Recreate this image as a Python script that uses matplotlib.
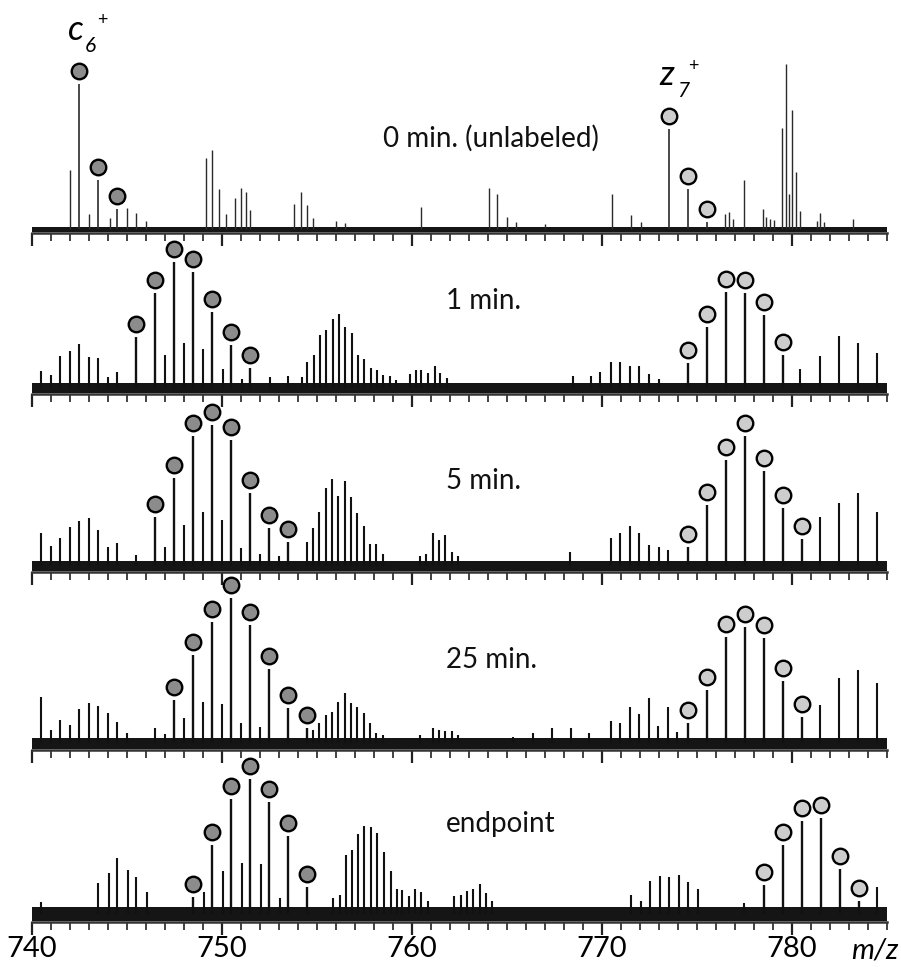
import matplotlib
matplotlib.use("Agg")
import matplotlib.pyplot as plt
import numpy as np

plt.rcParams['font.family'] = ['Lato', 'DejaVu Sans']

# ---------------- data (m/z, intensity in arbitrary units) ----------------
panel_labels = ["0 min. (unlabeled)", "1 min.", "5 min.", "25 min.", "endpoint"]

# panel 1: 0 min (unlabeled)
p1_mz = [742.0, 743.0, 744.1, 745.0, 745.47, 746.0, 749.15, 749.5, 749.85, 750.2,
         750.7, 751.0, 751.25, 751.5, 753.8, 754.15, 754.5, 754.8, 756.0, 756.5,
         760.5, 764.05, 764.5, 765.0, 765.5, 767.0, 770.55, 771.55, 772.05, 776.5,
         776.7, 776.9, 777.45, 778.45, 778.65, 778.85, 779.05, 779.5, 779.7, 779.85,
         780.0, 780.2, 780.4, 781.3, 781.5, 781.7, 783.2]
p1_int = [59, 15, 11, 21, 16, 8, 71, 79, 40, 15,
          31, 41, 37, 19, 25, 37, 24, 11, 8, 6,
          22, 41, 35, 12, 7, 5, 35, 14, 7, 15,
          17, 10, 49, 20, 12, 10, 9, 101, 165, 35,
          119, 57, 18, 8, 16, 7, 10]
p1_c_mz = [742.47, 743.47, 744.47]
p1_c_int = [145, 49, 20]
p1_z_mz = [773.53, 774.53, 775.55]
p1_z_int = [100, 40, 7]

# panel 2: 1 min
p2_mz = [740.5, 741.0, 741.5, 742.0, 742.5, 743.0, 743.5, 744.0, 744.5, 747.0,
         748.0, 749.0, 750.05, 751.05, 752.55, 753.5, 754.2,
         754.5, 754.83, 755.17, 755.5, 755.83, 756.17, 756.5, 756.83, 757.17, 757.5,
         757.83, 758.17, 758.5, 758.83, 759.17,
         759.9, 760.2, 760.5, 760.85, 761.2, 761.5, 761.85,
         768.45, 769.4, 769.9, 770.45, 770.95, 771.45, 771.95, 772.5, 773.0,
         780.42, 781.45, 782.45, 783.45, 784.45]
p2_int = [17, 13, 32, 37, 44, 31, 30, 11, 16, 33,
          45, 39, 19, 9, 11, 12, 11,
          26, 33, 53, 58, 69, 74, 61, 55, 33, 29,
          20, 18, 13, 12, 8,
          14, 18, 18, 15, 22, 15, 10,
          12, 12, 16, 26, 26, 22, 22, 14, 9,
          19, 32, 52, 45, 35]
p2_c_mz = [745.5, 746.5, 747.5, 748.5, 749.5, 750.5, 751.5]
p2_c_int = [51, 95, 126, 116, 76, 43, 20]
p2_z_mz = [774.53, 775.55, 776.55, 777.55, 778.55, 779.55]
p2_z_int = [25, 61, 96, 95, 73, 33]

# panel 3: 5 min
p3_mz = [740.48, 741.0, 741.5, 742.0, 742.5, 743.0, 743.5, 744.0, 744.5, 745.5,
         747.0, 748.0, 749.0, 750.0, 751.0, 752.0, 753.0,
         754.47, 754.8, 755.13, 755.47, 755.8, 756.13, 756.47, 756.8, 757.13, 757.47,
         757.8, 758.13, 758.47,
         760.4, 760.75, 761.08, 761.4, 761.75, 762.1, 762.4,
         768.3, 770.45, 770.95, 771.45, 771.95, 772.5, 773.0, 773.45,
         781.45, 782.45, 783.45, 784.45]
p3_int = [33, 20, 28, 39, 45, 48, 36, 19, 23, 11,
          19, 41, 54, 46, 18, 12, 10,
          24, 38, 54, 78, 87, 70, 85, 69, 53, 40,
          22, 22, 12,
          10, 12, 33, 26, 31, 14, 10,
          14, 28, 33, 40, 33, 21, 19, 16,
          49, 63, 73, 54]
p3_c_mz = [746.5, 747.5, 748.5, 749.5, 750.5, 751.5, 752.5, 753.5]
p3_c_int = [49, 88, 130, 141, 126, 73, 38, 24]
p3_z_mz = [774.53, 775.55, 776.55, 777.55, 778.55, 779.55, 780.55]
p3_z_int = [19, 61, 106, 130, 95, 58, 27]

# panel 4: 25 min
p4_mz = [740.48, 741.0, 741.5, 742.0, 742.5, 743.0, 743.5, 744.0, 744.5, 745.0,
         746.5, 747.0, 748.0, 749.0, 750.0, 751.0, 752.0,
         754.8, 755.13, 755.47, 755.8, 756.13, 756.47, 756.8, 757.13, 757.47, 757.8,
         758.13, 758.47,
         760.4, 761.08, 761.4, 761.75, 762.1, 762.4,
         765.3, 766.35, 767.35, 768.35, 769.3, 770.45, 770.95, 771.45, 771.95, 772.45,
         772.95, 773.45, 773.95,
         781.45, 782.45, 783.45, 784.45]
p4_int = [46, 13, 23, 18, 34, 40, 37, 30, 21, 10,
          15, 9, 25, 41, 39, 20, 16,
          13, 20, 28, 31, 41, 50, 40, 36, 30, 20,
          10, 8,
          8, 15, 13, 12, 12, 8,
          6, 10, 15, 15, 10, 22, 20, 36, 29, 45,
          17, 36, 11,
          38, 65, 73, 60]
p4_c_mz = [747.5, 748.5, 749.5, 750.5, 751.5, 752.5, 753.5, 754.5]
p4_c_int = [43, 88, 121, 145, 118, 74, 35, 15]
p4_z_mz = [774.53, 775.55, 776.55, 777.55, 778.55, 779.55, 780.55]
p4_z_int = [20, 53, 106, 116, 105, 62, 26]

# panel 5: endpoint
p5_mz = [740.46, 743.5, 744.05, 744.5, 745.05, 745.5, 746.05, 749.04, 750.04, 751.05,
         752.05, 753.05,
         755.86, 756.2, 756.51, 756.86, 757.17, 757.5, 757.83, 758.17, 758.53, 758.88,
         759.2, 759.5, 759.83, 760.17, 760.5, 760.83,
         762.2, 762.56, 762.9, 763.23, 763.58, 763.9, 764.2,
         771.53, 772.04, 772.54, 773.05, 773.54, 774.05, 774.54, 775.07, 777.47,
         784.45]
p5_int = [12, 31, 41, 56, 44, 37, 22, 22, 43, 51,
          50, 16,
          16, 19, 59, 64, 80, 88, 87, 81, 62, 43,
          25, 24, 18, 25, 22, 13,
          18, 19, 23, 25, 30, 21, 13,
          19, 13, 33, 38, 37, 39, 32, 25, 11,
          27]
p5_c_mz = [748.5, 749.5, 750.5, 751.5, 752.5, 753.5, 754.5]
p5_c_int = [17, 69, 115, 135, 112, 78, 27]
p5_z_mz = [778.53, 779.53, 780.53, 781.53, 782.53, 783.53]
p5_z_int = [29, 69, 93, 96, 45, 13]

x_min, x_max = 740, 785
major_ticks = [740, 750, 760, 770, 780]

# ---------------- layout (pixels) ----------------
W, H = 901, 967
left_px, right_px = 32, 887
axis_y = [233, 394, 572, 750, 922]     # axis line position
top_y = [0, 247, 405, 584, 762]        # top of each panel area
base_off = [4, 6, 6, 7, 8]             # baseline above axis line
band_top = [2, 5, 5, 5, 7]             # thickness of baseline noise band
label_pos = [(383, 147), (446, 309), (446, 489), (446, 668), (446, 832)]
circle_gap = 13

fig = plt.figure(figsize=(W / 100, H / 100), dpi=100)

panels = [
    (p1_mz, p1_int, p1_c_mz, p1_c_int, p1_z_mz, p1_z_int),
    (p2_mz, p2_int, p2_c_mz, p2_c_int, p2_z_mz, p2_z_int),
    (p3_mz, p3_int, p3_c_mz, p3_c_int, p3_z_mz, p3_z_int),
    (p4_mz, p4_int, p4_c_mz, p4_c_int, p4_z_mz, p4_z_int),
    (p5_mz, p5_int, p5_c_mz, p5_c_int, p5_z_mz, p5_z_int),
]

for i, (mz, inten, cmz, cint, zmz, zint) in enumerate(panels):
    hpx = axis_y[i] - top_y[i]
    ax = fig.add_axes([left_px / W, 1 - axis_y[i] / H,
                       (right_px - left_px) / W, hpx / H])
    ax.set_xlim(x_min, x_max)
    ax.set_ylim(-base_off[i], hpx - base_off[i])
    ax.patch.set_alpha(0)
    lw = 1.0 if i == 0 else 1.5
    col = '#2a2a2a' if i == 0 else '#111111'
    ax.fill_between([x_min, x_max], -base_off[i] + 1.5, band_top[i], color='#151515', lw=0)
    ax.vlines(mz, 0, inten, color=col, lw=lw)
    ax.vlines(cmz, 0, cint, color=col, lw=lw + 0.2)
    ax.vlines(zmz, 0, zint, color=col, lw=lw + 0.2)
    ax.scatter(cmz, np.array(cint) + circle_gap, s=125, facecolor='#8c8c8c',
               edgecolor='black', linewidths=1.7, zorder=5, clip_on=False)
    ax.scatter(zmz, np.array(zint) + circle_gap, s=125, facecolor='#cdcdcd',
               edgecolor='black', linewidths=1.7, zorder=5, clip_on=False)
    for s in ['top', 'left', 'right']:
        ax.spines[s].set_visible(False)
    ax.spines['bottom'].set_linewidth(1.8)
    ax.spines['bottom'].set_color('#333333')
    ax.set_yticks([])
    ax.set_xticks(major_ticks)
    ax.set_xticks(np.arange(x_min, x_max + 1, 1), minor=True)
    ax.tick_params(which='major', direction='out', length=9, width=1.6, color='#222222')
    ax.tick_params(which='minor', direction='out', length=5.5, width=1.2, color='#222222')
    if i == len(panels) - 1:
        ax.tick_params(which='major', labelsize=21, pad=1)
    else:
        ax.tick_params(which='major', labelbottom=False)
    lx, ly = label_pos[i]
    fig.text(lx / W, 1 - ly / H, panel_labels[i], fontsize=20, va='baseline',
             ha='left', color='#111111')

# ion labels
fig.text(68 / W, 1 - 40 / H, 'c', fontsize=25, style='italic', va='baseline')
fig.text(85 / W, 1 - 52 / H, '6', fontsize=15, style='italic', va='baseline')
fig.text(102 / W, 1 - 20 / H, '+', fontsize=13, va='center', ha='center')
fig.text(659 / W, 1 - 85 / H, 'z', fontsize=25, style='italic', va='baseline')
fig.text(677 / W, 1 - 97 / H, '7', fontsize=15, style='italic', va='baseline')
fig.text(693 / W, 1 - 66 / H, '+', fontsize=13, va='center', ha='center')

fig.text(851 / W, 1 - 951 / H, 'm/z', fontsize=21, style='italic', va='center', ha='left')

fig.savefig('out.png', dpi=100)
